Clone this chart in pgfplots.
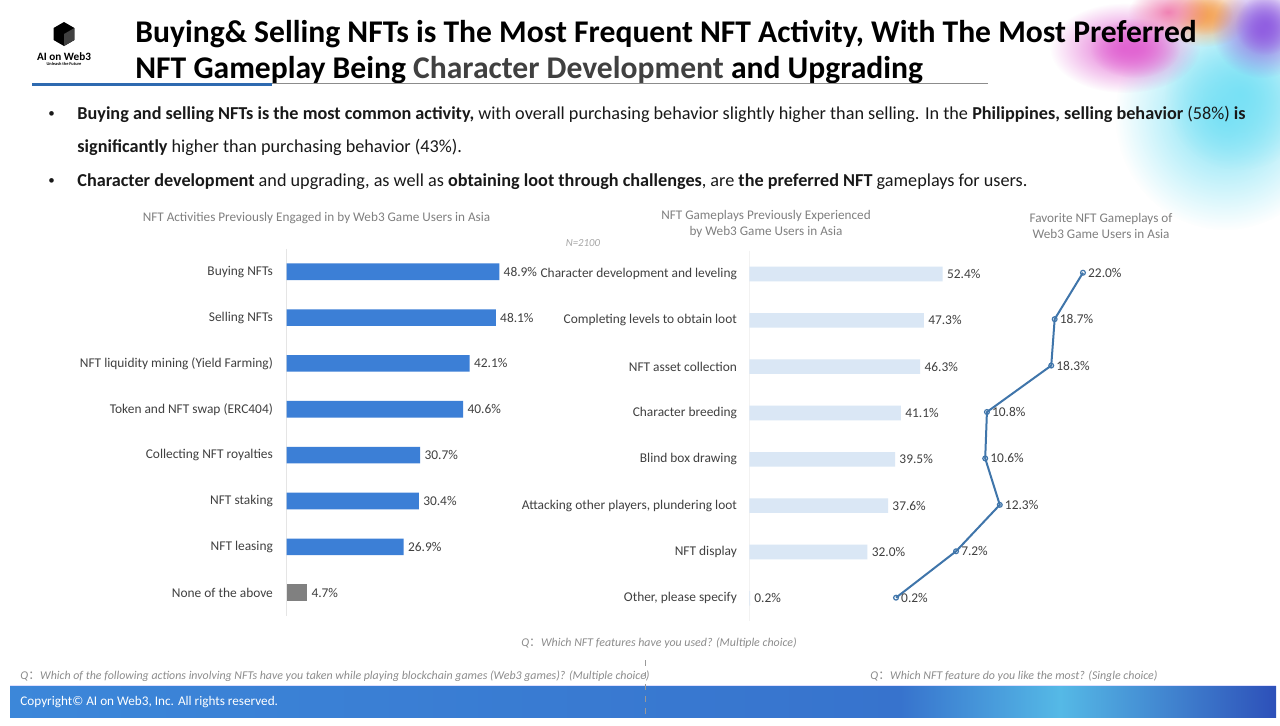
\documentclass[border=0pt]{standalone}
\usepackage{pgfplots}
\pgfplotsset{compat=1.18}
\usepackage{fontspec}
\setmainfont{Carlito}
\newfontfamily\cjk{Noto Sans CJK SC}
\usetikzlibrary{fadings}
\tikzfading[name=fuzzy, inner color=transparent!0, outer color=transparent!100]
\definecolor{barblue}{HTML}{3C7FD6}
\definecolor{barlight}{HTML}{DAE7F5}
\definecolor{linecol}{HTML}{3F75AA}
\definecolor{txt}{HTML}{404040}
\definecolor{ttl}{HTML}{808080}
\definecolor{ulblue}{HTML}{2E6AB0}
\begin{document}
\begin{tikzpicture}[x=0.5pt,y=-0.5pt]
\path[use as bounding box, fill=white] (0,0) rectangle (1280,725);
% decorative blob
\begin{scope}
\clip (0,0) rectangle (1280,725);
\fill[color={rgb,255:red,120;green,225;blue,245}, path fading=fuzzy] (1225,115) ellipse (110 and 115);
\fill[color={rgb,255:red,120;green,225;blue,245}, path fading=fuzzy] (1240,95) ellipse (75 and 75);
\fill[color={rgb,255:red,225;green,100;blue,210}, path fading=fuzzy] (1125,48) ellipse (75 and 45);
\fill[color={rgb,255:red,225;green,100;blue,210}, path fading=fuzzy] (1135,48) ellipse (45 and 30);
\fill[color={rgb,255:red,245;green,165;blue,90}, path fading=fuzzy] (1205,15) ellipse (45 and 32);
\fill[color={rgb,255:red,245;green,165;blue,90}, path fading=fuzzy] (1205,15) ellipse (28 and 20);
\fill[color={rgb,255:red,145;green,95;blue,225}, path fading=fuzzy] (1262,30) ellipse (50 and 48);
\fill[color={rgb,255:red,145;green,95;blue,225}, path fading=fuzzy] (1265,25) ellipse (30 and 30);
\fill[color={rgb,255:red,240;green,130;blue,180}, path fading=fuzzy] (1168,12) ellipse (40 and 25);
\end{scope}
% logo
\fill[black] (64,22) -- (74.4,28) -- (74.4,40) -- (64,46) -- (53.6,40) -- (53.6,28) -- cycle;
\fill[black!75] (64,34) -- (74.4,28) -- (74.4,40) -- (64,46) -- cycle;
\node[font=\bfseries\fontsize{5.6}{6}\selectfont, inner sep=0] at (64,57) {AI on Web3};
\node[font=\bfseries\fontsize{2.2}{3}\selectfont, inner sep=0] at (64,64) {Unleash the Future};
% title
\node[anchor=base west, inner sep=0, font=\bfseries\fontsize{15.8}{18}\selectfont] at (135,42) {Buying\& Selling NFTs is The Most Frequent NFT Activity, With The Most Preferred};
\node[anchor=base west, inner sep=0, font=\bfseries\fontsize{15.8}{18}\selectfont] at (135,78) {NFT Gameplay Being \textcolor{txt}{Character Development} and Upgrading};
\draw[black!45, line width=0.5pt] (272,83) -- (988,83);
\draw[ulblue, line width=1.5pt] (32,84) -- (272,84);
% bullets
\begin{scope}[every node/.style={anchor=base west, inner sep=0, font=\fontsize{9.1}{10}\selectfont, text=black!90}]
\node[font=\fontsize{6.5}{7}\selectfont] at (48,117) {\textbullet};
\node at (77,119) {\textbf{Buying and selling NFTs is the most common activity,} with overall purchasing behavior slightly higher than selling. In the \textbf{Philippines, selling behavior} (58\%) \textbf{is}};
\node at (77,152) {\textbf{significantly} higher than purchasing behavior (43\%).};
\node[font=\fontsize{6.5}{7}\selectfont] at (48,184) {\textbullet};
\node at (77,186) {\textbf{Character development} and upgrading, as well as \textbf{obtaining loot through challenges}, are \textbf{the preferred NFT} gameplays for users.};
\end{scope}
% chart titles
\begin{scope}[every node/.style={inner sep=0, font=\fontsize{6.6}{8}\selectfont, text=ttl, align=center}]
\node at (316.5,218) {NFT Activities Previously Engaged in by Web3 Game Users in Asia};
\node at (766,224) {NFT Gameplays Previously Experienced\\by Web3 Game Users in Asia};
\node at (1101,226) {Favorite NFT Gameplays of\\Web3 Game Users in Asia};
\node[font=\itshape\fontsize{5.4}{6}\selectfont, text=black!35] at (583,243) {N=2100};
\end{scope}
% chart 1
\begin{axis}[
  at={(143.35pt,-124.4pt)}, anchor=north west, scale only axis,
  width=108.7pt, height=183.4pt,
  xmin=0, xmax=50, ymin=-0.5, ymax=7.5, y dir=reverse,
  enlargelimits=false, clip=false,
  xbar, bar width=8.3pt, bar shift=0pt,
  hide x axis, axis y line*=left,
  y axis line style={draw=black!10, line width=0.5pt, -},
  ytick={0,...,7}, major tick length=0pt,
  yticklabels={Buying NFTs, Selling NFTs, NFT liquidity mining (Yield Farming), Token and NFT swap (ERC404), Collecting NFT royalties, NFT staking, NFT leasing, None of the above},
  yticklabel style={font=\fontsize{6.7}{7}\selectfont, text=txt, inner sep=0pt},
  yticklabel shift=6.7pt,
  point meta=explicit symbolic,
  nodes near coords={\pgfplotspointmeta\%},
  nodes near coords style={font=\fontsize{6.7}{7}\selectfont, text=txt, anchor=west, inner sep=2pt},
]
\addplot[fill=barblue, draw=none] coordinates {(48.9,0)[48.9] (48.1,1)[48.1] (42.1,2)[42.1] (40.6,3)[40.6] (30.7,4)[30.7] (30.4,5)[30.4] (26.9,6)[26.9]};
\addplot[fill=black!50, draw=none] coordinates {(4.7,7)[4.7]};
\end{axis}
% chart 2
\begin{axis}[
  at={(374.65pt,-125.43pt)}, anchor=north west, scale only axis,
  width=101.5pt, height=185.3pt,
  xmin=0, xmax=55, ymin=-0.5, ymax=7.5, y dir=reverse,
  enlargelimits=false, clip=false,
  xbar, bar width=7.3pt, bar shift=0pt,
  hide x axis, axis y line*=left,
  y axis line style={draw=black!5, line width=0.5pt, -},
  ytick={0,...,7}, major tick length=0pt,
  yticklabels={Character development and leveling, Completing levels to obtain loot, NFT asset collection, Character breeding, Blind box drawing, {Attacking other players, plundering loot}, NFT display, {Other, please specify}},
  yticklabel style={font=\fontsize{6.7}{7}\selectfont, text=txt, inner sep=0pt},
  yticklabel shift=6pt,
  point meta=explicit symbolic,
  nodes near coords={\pgfplotspointmeta\%},
  nodes near coords style={font=\fontsize{6.7}{7}\selectfont, text=txt, anchor=west, inner sep=2pt},
]
\addplot[fill=barlight, draw=none] coordinates {(52.4,0)[52.4] (47.3,1)[47.3] (46.3,2)[46.3] (41.1,3)[41.1] (39.5,4)[39.5] (37.6,5)[37.6] (32.0,6)[32.0] (0.2,7)[0.2]};
\end{axis}
% chart 3
\begin{axis}[
  at={(447.15pt,-124.75pt)}, anchor=north west, scale only axis,
  width=107.2pt, height=185.7pt,
  xmin=0, xmax=25, ymin=-0.5, ymax=7.5, y dir=reverse,
  enlargelimits=false, clip=false,
  hide axis,
  point meta=explicit symbolic,
  nodes near coords={\pgfplotspointmeta\%},
  nodes near coords style={font=\fontsize{6.7}{7}\selectfont, text=txt, anchor=west, inner sep=0pt, xshift=2.3pt},
]
\addplot[linecol, line width=1pt, mark=o, mark size=1.2pt, mark options={fill=white, line width=0.6pt}] coordinates {(22.0,0)[22.0] (18.7,1)[18.7] (18.3,2)[18.3] (10.8,3)[10.8] (10.6,4)[10.6] (12.3,5)[12.3] (7.2,6)[7.2] (0.2,7)[0.2]};
\end{axis}
% questions
\begin{scope}[every node/.style={inner sep=0, font=\itshape\fontsize{5.95}{7}\selectfont, text=black!45}]
\node at (659,643) {Q{\cjk\upshape ：}Which NFT features have you used? (Multiple choice)};
\node[anchor=west] at (20,676) {Q{\cjk\upshape ：}Which of the following actions involving NFTs have you taken while playing blockchain games (Web3 games)? (Multiple choice)};
\node[anchor=west] at (870,676) {Q{\cjk\upshape ：}Which NFT feature do you like the most? (Single choice)};
\end{scope}
% footer
\shade[left color={rgb,255:red,60;green,135;blue,217}, right color={rgb,255:red,55;green,115;blue,205}] (10,686) rectangle (900,717);
\shade[left color={rgb,255:red,55;green,115;blue,205}, right color={rgb,255:red,85;green,185;blue,230}] (900,686) rectangle (1060,717);
\shade[left color={rgb,255:red,85;green,185;blue,230}, right color={rgb,255:red,45;green,80;blue,185}] (1060,686) rectangle (1276,717);
\draw[white!70!blue!40, line width=0.5pt] (10,685.5) -- (1276,685.5);
\draw[black!40, dashed, line width=0.4pt] (645,660) -- (645,717);
\node[anchor=west, inner sep=0, font=\fontsize{6.6}{7}\selectfont, text=white] at (20,702) {Copyright© AI on Web3, Inc. All rights reserved.};
\end{tikzpicture}
\end{document}
